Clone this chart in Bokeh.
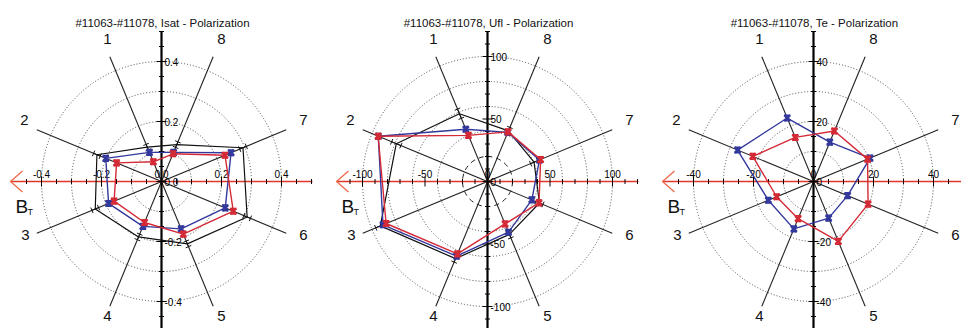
import numpy as np
from bokeh.plotting import figure
from bokeh.layouts import row
from bokeh.models import Range1d
from bokeh.core.properties import value
from bokeh.embed import file_html
from bokeh.resources import INLINE

# ---------------- data ----------------
probes = ["1", "2", "3", "4", "5", "6", "7", "8"]
probe_angle_deg = [112.5, 157.5, 202.5, 247.5, 292.5, 337.5, 22.5, 67.5]

isat_title = "#11063-#11078, Isat - Polarization"
isat_black = [0.124, 0.233, 0.239, 0.200, 0.225, 0.309, 0.294, 0.133]
isat_black_err = [0.010, 0.012, 0.012, 0.010, 0.010, 0.012, 0.012, 0.010]
isat_blue = [0.105, 0.201, 0.191, 0.162, 0.171, 0.230, 0.251, 0.105]
isat_red = [0.071, 0.162, 0.171, 0.148, 0.190, 0.259, 0.229, 0.100]
isat_rings = [0.1, 0.2, 0.3, 0.4]
isat_hticks = [-0.4, -0.2, 0.0, 0.2, 0.4]
isat_hlabels = ["-0.4", "-0.2", "0.0", "0.2", "0.4"]

ufl_title = "#11063-#11078, Ufl - Polarization"
ufl_black = [58.7, 79.0, 92.8, 66.8, 45.8, 45.0, 40.3, 43.8]
ufl_black_err = [4.0, 4.0, 4.0, 3.0, 3.0, 3.0, 3.0, 3.0]
ufl_blue = [45.3, 94.6, 90.5, 64.6, 43.9, 38.4, 45.0, 42.5]
ufl_red = [39.9, 94.7, 87.8, 62.7, 36.7, 44.6, 46.0, 43.0]
ufl_rings = [40, 60, 80, 100]
ufl_dashed_ring = [20]
ufl_hticks = [-100, -50, 0, 50, 100]
ufl_hlabels = ["-100", "-50", "0", "50", "100"]

te_title = "#11063-#11078, Te - Polarization"
te_blue = [22.9, 27.4, 16.3, 17.1, 13.2, 12.3, 20.4, 14.2]
te_red = [15.9, 21.9, 13.3, 13.4, 21.6, 19.7, 19.5, 18.2]
te_rings = [10, 20, 30, 40]
te_hticks = [-40, -20, 0, 20, 40]
te_hlabels = ["-40", "-20", "0", "20", "40"]

# ---------------- style / layout ----------------
FONT = value("Liberation Sans")
RED = "#d42a36"
BLUE = "#33389c"
AXRED = "#e2382a"
ARROW = "#f06a4c"
H = 328
CX, CY = 161, 181  # centre position in pixels from figure left / top

# label offsets (pixels from centre) for probe numbers
num_off = [(-54, 143), (-137, 62), (-136, -53), (-54, -134),
           (60, -134), (142, -53), (142, 62), (60, 143)]


def polar(vals):
    a = np.deg2rad(np.array(probe_angle_deg))
    v = np.array(vals, dtype=float)
    return v * np.cos(a), v * np.sin(a)


def make_panel(W, s, title, rings, dashed, hticks, hlabels, tick_step, major_step,
               black=None, black_err=None, blue=None, red=None):
    px = 1.0 / s
    p = figure(width=W, height=H,
               x_range=Range1d(-CX * px, (W - CX) * px),
               y_range=Range1d(-(H - CY) * px, CY * px),
               output_backend="svg", toolbar_location=None,
               min_border=0, outline_line_color=None)
    p.axis.visible = False
    p.grid.visible = False
    p.background_fill_color = "white"

    # rings
    p.circle(x=[0] * len(rings), y=[0] * len(rings), radius=rings,
             fill_color=None, line_color="#4a4a4a", line_dash="1 2", line_width=1)
    if dashed:
        p.circle(x=[0] * len(dashed), y=[0] * len(dashed), radius=dashed,
                 fill_color=None, line_color="#222222", line_dash="5 4", line_width=1)

    # spokes
    L = 135 * px
    sa = np.deg2rad(np.array([22.5, 67.5, 112.5, 157.5]))
    p.segment(x0=-L * np.cos(sa), y0=-L * np.sin(sa), x1=L * np.cos(sa), y1=L * np.sin(sa),
              line_color="#222222", line_width=1.1)

    # axes
    A = 151 * px
    p.segment(x0=[-A], y0=[0], x1=[A], y1=[0], line_color=AXRED, line_width=1.5)
    p.segment(x0=[0], y0=[-150 * px], x1=[0], y1=[150 * px], line_color="black", line_width=2.2)
    # arrow
    p.segment(x0=[-A, -A], y0=[0, 0], x1=[-139 * px, -139 * px], y1=[10.5 * px, -10.5 * px],
              line_color=ARROW, line_width=1.3)

    # ticks
    n = int(round(150 * px / tick_step))
    t = np.arange(-n, n + 1) * tick_step
    t = t[np.abs(t) <= 150 * px + 1e-9]
    ismaj = np.abs(t / major_step - np.round(t / major_step)) < 1e-6
    tl = np.where(ismaj, 5.0, 2.5) * px
    ht = t[t > -145 * px]
    htl = tl[t > -145 * px]
    p.segment(x0=ht, y0=-htl, x1=ht, y1=htl, line_color="black", line_width=1)
    p.segment(x0=-tl, y0=t, x1=tl, y1=t, line_color="black", line_width=1)

    # tick labels
    hv = np.array(hticks, dtype=float)
    p.text(x=hv, y=[8 * px] * len(hv), text=hlabels, text_font=FONT, text_font_size="10px",
           text_align="center", text_baseline="middle", text_color="black")
    vtxt = hlabels[::-1]
    p.text(x=[3 * px] * len(hv), y=hv[::-1], text=vtxt, text_font=FONT, text_font_size="10px",
           text_align="left", text_baseline="middle", text_color="black")

    # data
    def draw(vals, color):
        x, y = polar(vals)
        p.line(np.append(x, x[0]), np.append(y, y[0]), line_color=color, line_width=1.4)
        e = 2.8 * px
        p.segment(x0=x, y0=y - e, x1=x, y1=y + e, line_color=color, line_width=1.2)
        p.segment(x0=x - 3.2 * px, y0=y + e, x1=x + 3.2 * px, y1=y + e, line_color=color, line_width=1.5)
        p.segment(x0=x - 3.2 * px, y0=y - e, x1=x + 3.2 * px, y1=y - e, line_color=color, line_width=1.5)
        p.scatter(x, y, marker="x", size=8, line_color=color, line_width=2.6)

    if black is not None:
        x, y = polar(black)
        p.line(np.append(x, x[0]), np.append(y, y[0]), line_color="#111111", line_width=1.2)
        a = np.deg2rad(np.array(probe_angle_deg))
        r = np.array(black)
        er = np.array(black_err)
        x0, y0 = (r - er) * np.cos(a), (r - er) * np.sin(a)
        x1, y1 = (r + er) * np.cos(a), (r + er) * np.sin(a)
        p.segment(x0=x0, y0=y0, x1=x1, y1=y1, line_color="#111111", line_width=1)
        c = 3 * px
        for xx, yy in ((x0, y0), (x1, y1)):
            p.segment(x0=xx - c * np.sin(a), y0=yy + c * np.cos(a),
                      x1=xx + c * np.sin(a), y1=yy - c * np.cos(a),
                      line_color="#111111", line_width=1)
    if blue is not None:
        draw(blue, BLUE)
    if red is not None:
        draw(red, RED)

    # probe numbers
    p.text(x=[o[0] * px for o in num_off], y=[o[1] * px for o in num_off], text=probes,
           text_font=FONT, text_font_size="15px", text_align="center",
           text_baseline="middle", text_color="#111111")

    # B_T
    p.text(x=[-146 * px], y=[-25 * px], text=["B"], text_font=FONT, text_font_size="19px",
           text_align="left", text_baseline="middle", text_color="#111111")
    p.text(x=[-134 * px], y=[-30 * px], text=["T"], text_font=FONT, text_font_size="9px",
           text_align="left", text_baseline="middle", text_color="#111111")

    # title
    p.text(x=[1 * px], y=[159 * px], text=[title], text_font=FONT, text_font_size="11.5px",
           text_align="center", text_baseline="middle", text_color="#111111")
    return p


p1 = make_panel(326, 300.0, isat_title, isat_rings, None, isat_hticks, isat_hlabels, 0.05, 0.2,
                black=isat_black, black_err=isat_black_err, blue=isat_blue, red=isat_red)
p2 = make_panel(326, 1.25, ufl_title, ufl_rings, ufl_dashed_ring, ufl_hticks, ufl_hlabels, 10, 50,
                black=ufl_black, black_err=ufl_black_err, blue=ufl_blue, red=ufl_red)
p3 = make_panel(309, 3.0, te_title, te_rings, None, te_hticks, te_hlabels, 5, 20,
                blue=te_blue, red=te_red)

layout = row(p1, p2, p3)
open("out.html", "w").write(file_html(layout, INLINE))
